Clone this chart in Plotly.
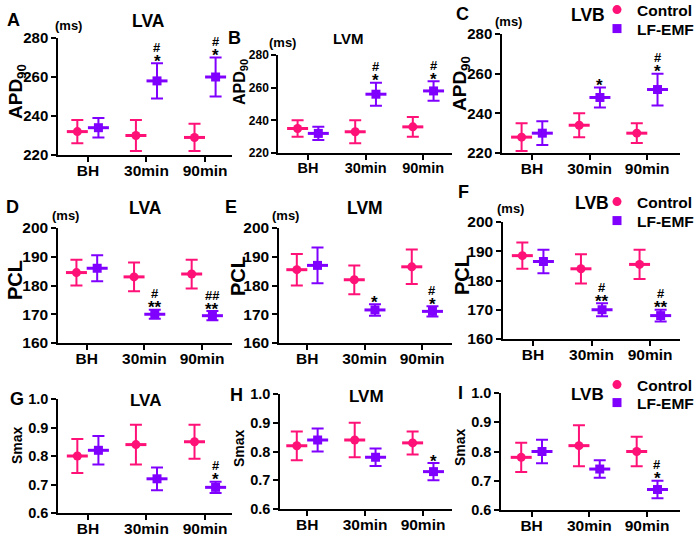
import plotly.graph_objects as go

categories = ["BH", "30min", "90min"]

# ---- APD90 (ms) ----
lva_apd_ctrl = [232, 230, 229]
lva_apd_ctrl_err = [6, 8, 7]
lva_apd_emf = [234, 258, 260]
lva_apd_emf_err = [5, 9, 10]

lvm_apd_ctrl = [235, 233, 236]
lvm_apd_ctrl_err = [5, 7, 6]
lvm_apd_emf = [232, 256, 258]
lvm_apd_emf_err = [4, 7, 6]

lvb_apd_ctrl = [228, 234, 230]
lvb_apd_ctrl_err = [7, 6, 5]
lvb_apd_emf = [230, 248, 252]
lvb_apd_emf_err = [6, 5, 8]

# ---- PCL (ms) ----
lva_pcl_ctrl = [184.5, 183, 184]
lva_pcl_ctrl_err = [4.5, 5, 5]
lva_pcl_emf = [186, 170, 169.5]
lva_pcl_emf_err = [4.5, 1.6, 1.6]

lvm_pcl_ctrl = [185.5, 182, 186.5]
lvm_pcl_ctrl_err = [5.5, 5, 6]
lvm_pcl_emf = [187, 171.5, 171]
lvm_pcl_emf_err = [6.2, 2, 1.8]

lvb_pcl_ctrl = [188.5, 184, 185.5]
lvb_pcl_ctrl_err = [4.5, 5, 5]
lvb_pcl_emf = [186.5, 170, 168]
lvb_pcl_emf_err = [4, 2.2, 2]

# ---- Smax ----
lva_smax_ctrl = [0.80, 0.84, 0.85]
lva_smax_ctrl_err = [0.06, 0.07, 0.06]
lva_smax_emf = [0.82, 0.72, 0.69]
lva_smax_emf_err = [0.05, 0.04, 0.02]

lvm_smax_ctrl = [0.82, 0.84, 0.83]
lvm_smax_ctrl_err = [0.05, 0.06, 0.04]
lvm_smax_emf = [0.84, 0.78, 0.73]
lvm_smax_emf_err = [0.04, 0.03, 0.03]

lvb_smax_ctrl = [0.78, 0.82, 0.80]
lvb_smax_ctrl_err = [0.05, 0.07, 0.05]
lvb_smax_emf = [0.80, 0.74, 0.67]
lvb_smax_emf_err = [0.04, 0.03, 0.03]

# significance marks (LF-EMF series)
stars = {
    "A": ["", "*", "*"], "B": ["", "*", "*"], "C": ["", "*", "*"],
    "D": ["", "**", "**"], "E": ["", "*", "*"], "F": ["", "**", "**"],
    "G": ["", "", "*"], "H": ["", "", "*"], "I": ["", "", "*"],
}
hashes = {
    "A": ["", "#", "#"], "B": ["", "#", "#"], "C": ["", "", "#"],
    "D": ["", "#", "##"], "E": ["", "", "#"], "F": ["", "#", "#"],
    "G": ["", "", "#"], "H": ["", "", ""], "I": ["", "", "#"],
}

series_names = ["Control", "LF-EMF"]

PINK = "#FF1177"
PURPLE = "#8000FF"
FONT = "Liberation Sans, Arial, sans-serif"
W, H = 700, 536

def px(x):
    return x / W

def py(y):
    return 1 - y / H

panels = [
    dict(key="A", title="LVA", ylab="APD<sub>90</sub>", ctrl=lva_apd_ctrl, ce=lva_apd_ctrl_err, emf=lva_apd_emf, ee=lva_apd_emf_err,
         box=(58, 232, 38, 155), xr=[0.49, 3.46], yr=[220, 280], yt=[220, 240, 260, 280], fmt="",
         tfs=15, xfs=15.5, tts=17.5, yls=19, letter=(13, 20), ttl=(148, 21), ms=(68, 25), yl=(17, 92), legend=None),
    dict(key="B", title="LVM", ylab="APD<sub>90</sub>", ctrl=lvm_apd_ctrl, ce=lvm_apd_ctrl_err, emf=lvm_apd_emf, ee=lvm_apd_emf_err,
         box=(278, 452, 55, 153), xr=[0.48, 3.5], yr=[220, 280], yt=[220, 240, 260, 280], fmt="",
         tfs=12, xfs=14.5, tts=15, yls=16, letter=(235, 38), ttl=(348, 39), ms=(282, 43), yl=(240, 82), legend=None),
    dict(key="C", title="LVB", ylab="APD<sub>90</sub>", ctrl=lvb_apd_ctrl, ce=lvb_apd_ctrl_err, emf=lvb_apd_emf, ee=lvb_apd_emf_err,
         box=(502, 680, 34, 153), xr=[0.48, 3.57], yr=[220, 280], yt=[220, 240, 260, 280], fmt="",
         tfs=15, xfs=15.5, tts=17.5, yls=19, letter=(462, 14), ttl=(588, 15), ms=(508, 22), yl=(461, 84),
         legend=(("legend", -7), ("legend2", 12))),
    dict(key="D", title="LVA", ylab="PCL", ctrl=lva_pcl_ctrl, ce=lva_pcl_ctrl_err, emf=lva_pcl_emf, ee=lva_pcl_emf_err,
         box=(58, 232, 228, 343), xr=[0.5, 3.52], yr=[160, 200], yt=[160, 170, 180, 190, 200], fmt="",
         tfs=15.5, xfs=15.5, tts=17.5, yls=20, letter=(12, 207), ttl=(145, 208), ms=(65, 215), yl=(15, 280), legend=None),
    dict(key="E", title="LVM", ylab="PCL", ctrl=lvm_pcl_ctrl, ce=lvm_pcl_ctrl_err, emf=lvm_pcl_emf, ee=lvm_pcl_emf_err,
         box=(279, 452, 228, 343), xr=[0.51, 3.52], yr=[160, 200], yt=[160, 170, 180, 190, 200], fmt="",
         tfs=15.5, xfs=15.5, tts=17.5, yls=20, letter=(231, 207), ttl=(365, 208), ms=(285, 215), yl=(238, 276), legend=None),
    dict(key="F", title="LVB", ylab="PCL", ctrl=lvb_pcl_ctrl, ce=lvb_pcl_ctrl_err, emf=lvb_pcl_emf, ee=lvb_pcl_emf_err,
         box=(503, 680, 222, 339), xr=[0.49, 3.51], yr=[160, 200], yt=[160, 170, 180, 190, 200], fmt="",
         tfs=15.5, xfs=15.5, tts=17.5, yls=20, letter=(463, 192), ttl=(592, 203), ms=(510, 208), yl=(462, 275),
         legend=(("legend3", 185), ("legend4", 204))),
    dict(key="G", title="LVA", ylab="Smax", ctrl=lva_smax_ctrl, ce=lva_smax_ctrl_err, emf=lva_smax_emf, ee=lva_smax_emf_err,
         box=(58, 232, 399, 513), xr=[0.49, 3.46], yr=[0.6, 1.0], yt=[0.6, 0.7, 0.8, 0.9, 1.0], fmt=".1f",
         tfs=14.5, xfs=15.5, tts=17, yls=14, letter=(17, 399), ttl=(145, 400), ms=None, yl=(17, 445), legend=None),
    dict(key="H", title="LVM", ylab="Smax", ctrl=lvm_smax_ctrl, ce=lvm_smax_ctrl_err, emf=lvm_smax_emf, ee=lvm_smax_emf_err,
         box=(280, 452, 394, 509), xr=[0.53, 3.5], yr=[0.6, 1.0], yt=[0.6, 0.7, 0.8, 0.9, 1.0], fmt=".1f",
         tfs=14.5, xfs=15.5, tts=17, yls=14, letter=(236, 395), ttl=(367, 396), ms=None, yl=(239, 448), legend=None),
    dict(key="I", title="LVB", ylab="Smax", ctrl=lvb_smax_ctrl, ce=lvb_smax_ctrl_err, emf=lvb_smax_emf, ee=lvb_smax_emf_err,
         box=(501, 680, 393, 510), xr=[0.47, 3.57], yr=[0.6, 1.0], yt=[0.6, 0.7, 0.8, 0.9, 1.0], fmt=".1f",
         tfs=14.5, xfs=15.5, tts=17, yls=14, letter=(460, 393), ttl=(587, 394), ms=None, yl=(460, 447),
         legend=(("legend5", 368), ("legend6", 386))),
]

OFF = 0.18
xpos = [1, 2, 3]

fig = go.Figure()
annotations = []
layout = {}

leg_common = dict(xanchor="left", yanchor="top", bgcolor="rgba(0,0,0,0)", borderwidth=0,
                  font=dict(family=FONT, size=15.5, color="black", weight="bold"),
                  tracegroupgap=0, itemclick=False, itemdoubleclick=False)

for i, p in enumerate(panels, start=1):
    xa = "x" if i == 1 else f"x{i}"
    ya = "y" if i == 1 else f"y{i}"
    l, r, t, b = p["box"]
    layout["xaxis" if i == 1 else f"xaxis{i}"] = dict(
        domain=[px(l), px(r)], range=p["xr"], anchor=ya,
        tickmode="array", tickvals=xpos, ticktext=categories,
        showline=True, linecolor="black", linewidth=1.5, ticks="outside", ticklen=5,
        tickwidth=1.5, tickcolor="black", showgrid=False, zeroline=False, fixedrange=True,
        ticklabelstandoff=-4,
        tickfont=dict(family=FONT, size=p["xfs"], color="black", weight="bold"),
    )
    layout["yaxis" if i == 1 else f"yaxis{i}"] = dict(
        domain=[py(b), py(t)], range=p["yr"], anchor=xa,
        tickmode="array", tickvals=p["yt"], tickformat=p["fmt"],
        showline=True, linecolor="black", linewidth=1.5, ticks="outside", ticklen=5,
        tickwidth=1.5, tickcolor="black", showgrid=False, zeroline=False, fixedrange=True,
        tickfont=dict(family=FONT, size=p["tfs"], color="black", weight="bold"),
    )
    for vals, errs, color, sym, sgn in [
        (p["ctrl"], p["ce"], PINK, "circle", -1),
        (p["emf"], p["ee"], PURPLE, "square", 1),
    ]:
        xs = [x + sgn * OFF for x in xpos]
        fig.add_trace(go.Scatter(
            x=xs, y=vals, xaxis=xa, yaxis=ya, mode="markers", showlegend=False,
            marker=dict(symbol="line-ew", size=15, line=dict(color=color, width=3)),
            error_y=dict(type="data", array=errs, color=color, thickness=2, width=6),
            hoverinfo="skip",
        ))
        fig.add_trace(go.Scatter(
            x=xs, y=vals, xaxis=xa, yaxis=ya, mode="markers", showlegend=False,
            marker=dict(symbol=sym, size=9, color=color, line=dict(width=0)),
        ))
    # significance marks
    for j in range(3):
        top = p["emf"][j] + p["ee"][j]
        xx = xpos[j] + OFF
        if stars[p["key"]][j]:
            annotations.append(dict(x=xx, y=top, xref=xa, yref=ya, text=stars[p["key"]][j],
                                    showarrow=False, yanchor="middle", yshift=2,
                                    font=dict(family=FONT, size=17, color="black", weight="bold")))
        if hashes[p["key"]][j]:
            annotations.append(dict(x=xx, y=top, xref=xa, yref=ya, text=hashes[p["key"]][j],
                                    showarrow=False, yanchor="middle", yshift=16,
                                    font=dict(family=FONT, size=13, color="black", weight="bold")))
    # panel letter, title, (ms), y label
    annotations.append(dict(x=px(p["letter"][0]), y=py(p["letter"][1]), xref="paper", yref="paper",
                            text=p["key"], showarrow=False, xanchor="center", yanchor="middle",
                            font=dict(family=FONT, size=18, color="black", weight="bold")))
    annotations.append(dict(x=px(p["ttl"][0]), y=py(p["ttl"][1]), xref="paper", yref="paper",
                            text=p["title"], showarrow=False, xanchor="center", yanchor="middle",
                            font=dict(family=FONT, size=p["tts"], color="black", weight="bold")))
    if p["ms"]:
        annotations.append(dict(x=px(p["ms"][0]), y=py(p["ms"][1]), xref="paper", yref="paper",
                                text="(ms)", showarrow=False, xanchor="center", yanchor="middle",
                                font=dict(family=FONT, size=13, color="black", weight="bold")))
    annotations.append(dict(x=px(p["yl"][0]), y=py(p["yl"][1]), xref="paper", yref="paper",
                            text=p["ylab"], showarrow=False, xanchor="center", yanchor="middle", textangle=-90,
                            font=dict(family=FONT, size=p["yls"], color="black", weight="bold")))
    # legend entries (one legend box per entry)
    if p["legend"]:
        for (lname, ltop), name, color, sym in zip(p["legend"], series_names, [PINK, PURPLE], ["circle", "square"]):
            fig.add_trace(go.Scatter(x=[None], y=[None], xaxis=xa, yaxis=ya, mode="markers", name=name,
                                     marker=dict(symbol=sym, size=9, color=color), legend=lname,
                                     showlegend=True))
            layout[lname] = dict(x=px(597), y=py(ltop), **leg_common)

fig.update_layout(
    width=W, height=H, margin=dict(l=0, r=0, t=0, b=0, autoexpand=False),
    paper_bgcolor="white", plot_bgcolor="white",
    annotations=annotations, showlegend=True, **layout,
)

fig.write_html("out.html", config={"displayModeBar": False},
               post_script="document.body.style.margin='0';")
